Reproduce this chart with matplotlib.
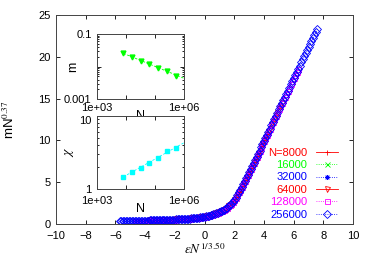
import numpy as np
import matplotlib
matplotlib.use('Agg')
import matplotlib.pyplot as plt

plt.rcParams['font.family'] = ['Liberation Sans', 'DejaVu Sans']
plt.rcParams['mathtext.fontset'] = 'stix'
plt.rcParams['font.size'] = 8

# scaled data (eps*N^(1/3.5), m*N^0.37)
x_scaled = [-5.7, -5.6, -5.5, -5.4, -5.3, -5.2, -5.1, -5.0, -4.9, -4.8,
            -4.7, -4.6, -4.5, -4.4, -4.3, -4.2, -4.1, -4.0, -3.9, -3.8,
            -3.7, -3.6, -3.5, -3.4, -3.3, -3.2, -3.1, -3.0, -2.9, -2.8,
            -2.7, -2.6, -2.5, -2.4, -2.3, -2.2, -2.1, -2.0, -1.9, -1.8,
            -1.7, -1.6, -1.5, -1.4, -1.3, -1.2, -1.1, -1.0, -0.9, -0.8,
            -0.7, -0.6, -0.5, -0.4, -0.3, -0.2, -0.1, 0.0, 0.1, 0.2,
            0.3, 0.4, 0.5, 0.6, 0.7, 0.8, 0.9, 1.0, 1.1, 1.2,
            1.3, 1.4, 1.5, 1.6, 1.7, 1.8,
            1.9, 2.0, 2.1, 2.2, 2.3, 2.4, 2.5, 2.6, 2.7, 2.8,
            2.9, 3.0, 3.1, 3.2, 3.3, 3.4, 3.5, 3.6, 3.7, 3.8,
            3.9, 4.0, 4.1, 4.2, 4.3, 4.4, 4.5, 4.6, 4.7, 4.8,
            4.9, 5.0, 5.1, 5.2, 5.3, 5.4, 5.5, 5.6, 5.7, 5.8,
            5.9, 6.0, 6.1, 6.2, 6.3, 6.4, 6.5, 6.6, 6.7, 6.8,
            6.9, 7.0, 7.1, 7.2, 7.3, 7.4, 7.5, 7.6]
y_scaled = [0.33, 0.335, 0.34, 0.345, 0.35, 0.355, 0.36, 0.36, 0.365, 0.37,
            0.37, 0.375, 0.38, 0.385, 0.39, 0.395, 0.40, 0.405, 0.41, 0.415,
            0.42, 0.425, 0.43, 0.435, 0.44, 0.445, 0.45, 0.455, 0.46, 0.465,
            0.47, 0.475, 0.48, 0.49, 0.50, 0.51, 0.52, 0.53, 0.54, 0.55,
            0.56, 0.57, 0.58, 0.595, 0.61, 0.625, 0.64, 0.655, 0.67, 0.69,
            0.71, 0.73, 0.75, 0.775, 0.80, 0.83, 0.86, 0.895, 0.93, 0.97,
            1.01, 1.055, 1.10, 1.15, 1.21, 1.27, 1.34, 1.42, 1.50, 1.60,
            1.70, 1.82, 1.95, 2.10, 2.27, 2.45,
            2.65, 2.90, 3.15, 3.45, 3.78, 4.10, 4.45, 4.80, 5.15, 5.50,
            5.85, 6.20, 6.55, 6.90, 7.27, 7.65, 8.02, 8.40, 8.78, 9.15,
            9.53, 9.90, 10.28, 10.66, 11.04, 11.42, 11.80, 12.18, 12.56, 12.94,
            13.32, 13.70, 14.07, 14.45, 14.82, 15.20, 15.57, 15.95, 16.32, 16.70,
            17.07, 17.45, 17.82, 18.20, 18.57, 18.95, 19.32, 19.68, 20.04, 20.40,
            20.76, 21.12, 21.48, 21.84, 22.20, 22.56, 22.92, 23.28]

sizes = [8000, 16000, 32000, 64000, 128000, 256000]
x_lo = [-2.1, -2.6, -3.2, -3.9, -4.7, -5.7]
x_hi = [2.9, 3.5, 4.2, 5.2, 6.3, 7.6]

# insets
N_ins = [8000, 16000, 32000, 64000, 128000, 256000, 512000]
m_ins = [0.0256, 0.0193, 0.0149, 0.0118, 0.0089, 0.0072, 0.0053]
chi_ins = [1.45, 1.68, 1.94, 2.27, 2.66, 3.28, 3.64]
fit_N = [8000, 1e6]
fit_m = [0.0256, 0.0044]
fit_chi = [1.45, 4.27]

styles = [('+', '#ff0000', '-'), ('x', '#00ff00', ':'), ((8, 2, 0), '#0000ff', ':'),
          ('v', '#ff0000', '-'), ('s', '#ff00ff', ':'), ('D', '#0000ff', ':')]

fig = plt.figure(figsize=(3.74, 2.62), dpi=100)
ax = fig.add_axes([0.150, 0.145, 0.794, 0.798])

xs = np.array(x_scaled)
ys = np.array(y_scaled)
for i, n in enumerate(sizes):
    mk, col, ls = styles[i]
    sel = (xs >= x_lo[i]) & (xs <= x_hi[i])
    lab = 'N=%d' % n if i == 0 else '%d' % n
    ax.plot(xs[sel], ys[sel], ls=ls, color=col, lw=0.6, marker=mk, ms=3.6,
            mfc='none', mec=col, mew=0.6, label=lab)

ax.set_xlim(-10, 10)
ax.set_ylim(0, 25)
ax.set_xticks(range(-10, 11, 2))
ax.set_yticks(range(0, 26, 5))
ax.tick_params(direction='in', top=True, right=True, length=3, width=0.6)
ax.tick_params(axis='x', pad=5)
ax.tick_params(axis='y', pad=4)
for s in ax.spines.values():
    s.set_linewidth(0.7)
    s.set_color('#444444')
ax.set_xlabel(r'$\varepsilon N^{1/3.50}$', fontsize=9.5, labelpad=0)
ax.set_ylabel(r'mN$^{0.37}$', fontsize=9.5)
ax.yaxis.set_label_coords(-0.13, 0.5)

ax.legend(loc='lower right', bbox_to_anchor=(0.95, 0.02), markerfirst=False,
          labelcolor='linecolor', frameon=False, handlelength=2.0,
          handletextpad=0.8, labelspacing=0.22, borderpad=0, borderaxespad=0,
          fontsize=8)

# inset m
a1 = fig.add_axes([0.260, 0.621, 0.232, 0.249])
a1.plot(fit_N, fit_m, color='#00ff00', lw=0.6, ls=(0, (3, 2)))
a1.plot(N_ins, m_ins, 'v', color='#00ff00', ms=3.5)
a1.set_xscale('log')
a1.set_yscale('log')
a1.set_xlim(1e3, 1e6)
a1.set_ylim(1e-3, 1e-1)
a1.set_xticks([1e3, 1e4, 1e5, 1e6])
a1.set_xticklabels(['1e+03', '', '', '1e+06'])
a1.set_yticks([1e-3, 1e-2, 1e-1])
a1.set_yticklabels(['0.001', '', '0.1'])
a1.xaxis.set_minor_locator(matplotlib.ticker.NullLocator())
a1.set_xlabel('N', fontsize=9)
a1.xaxis.set_label_coords(0.5, -0.16)
a1.set_ylabel('m', fontsize=9)
a1.yaxis.set_label_coords(-0.21, 0.5)

# inset chi
a2 = fig.add_axes([0.260, 0.280, 0.232, 0.278])
a2.plot(fit_N, fit_chi, color='#00ffff', lw=0.6, ls=(0, (3, 2)))
a2.plot(N_ins, chi_ins, 's', color='#00ffff', ms=3.5)
a2.set_xscale('log')
a2.set_yscale('log')
a2.set_xlim(1e3, 1e6)
a2.set_ylim(1, 10)
a2.set_xticks([1e3, 1e4, 1e5, 1e6])
a2.set_xticklabels(['1e+03', '', '', '1e+06'])
a2.set_yticks([1, 10])
a2.set_yticklabels(['1', '10'])
a2.xaxis.set_minor_locator(matplotlib.ticker.NullLocator())
a2.set_xlabel('N', fontsize=9)
a2.xaxis.set_label_coords(0.5, -0.2)
a2.set_ylabel(r'$\chi$', fontsize=10)
a2.yaxis.set_label_coords(-0.24, 0.5)

for a in (a1, a2):
    a.tick_params(which='both', direction='in', top=True, right=True, width=0.6)
    a.tick_params(axis='y', pad=4)
    a.tick_params(which='major', length=3)
    a.tick_params(which='minor', length=1.5)
    a.yaxis.set_minor_formatter(matplotlib.ticker.NullFormatter())
    for s in a.spines.values():
        s.set_linewidth(0.7)
        s.set_color('#444444')
a1.tick_params(axis='x', pad=3)
a2.tick_params(axis='x', pad=5)
# the top label of the chi inset hangs just under its tick, as in the original
a2.get_yticklabels()[1].set_va('top')

fig.savefig('out.png', dpi=100)
